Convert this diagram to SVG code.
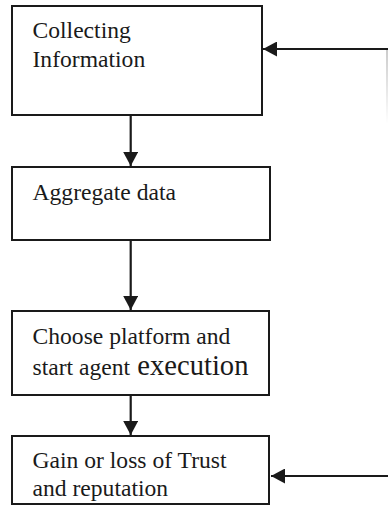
<svg xmlns="http://www.w3.org/2000/svg" width="388" height="514" viewBox="0 0 388 514">
<style>
.box{fill:#fff;stroke:#1a1a1a;stroke-width:2}
.lbl{font-family:"Liberation Serif","Times New Roman",serif;font-size:23.6px;fill:#1a1a1a}
.big{font-size:28.6px}
.conn{stroke:#1a1a1a;stroke-width:2.2;fill:none}
</style>
<defs>
<marker id="ah" viewBox="0 0 14 15" refX="14" refY="7.5" markerWidth="14" markerHeight="15" markerUnits="userSpaceOnUse" orient="auto">
<path d="M0,0 L14,7.5 L0,15 Z" fill="#1a1a1a"/>
</marker>
<linearGradient id="fade" x1="0" y1="0" x2="0" y2="1">
<stop offset="0" stop-color="#999"/>
<stop offset="1" stop-color="#fff"/>
</linearGradient>
</defs>
<rect width="388" height="514" fill="#fff"/>
<g id="n1">
<rect class="box" x="12" y="6" width="250" height="109"/>
<text class="lbl" x="32.5" y="38">Collecting</text>
<text class="lbl" x="32.5" y="67">Information</text>
</g>
<g id="n2">
<rect class="box" x="12" y="167" width="258" height="73"/>
<text class="lbl" x="32.5" y="200">Aggregate data</text>
</g>
<g id="n3">
<rect class="box" x="12" y="311" width="257" height="84"/>
<text class="lbl" x="32.5" y="344">Choose platform and</text>
<text class="lbl" x="32.5" y="374.5">start agent<tspan class="big"> execution</tspan></text>
</g>
<g id="n4">
<rect class="box" x="12" y="436" width="257" height="68"/>
<text class="lbl" x="32.5" y="468">Gain or loss of Trust</text>
<text class="lbl" x="32.5" y="496">and reputation</text>
</g>
<g id="connectors">
<line class="conn" x1="130.7" y1="116" x2="130.7" y2="166" marker-end="url(#ah)"/>
<line class="conn" x1="130.7" y1="241" x2="130.7" y2="310" marker-end="url(#ah)"/>
<line class="conn" x1="130.7" y1="396" x2="130.7" y2="435" marker-end="url(#ah)"/>
<line class="conn" x1="388" y1="49" x2="263" y2="49" marker-end="url(#ah)"/>
<line class="conn" x1="388" y1="476" x2="271" y2="476" marker-end="url(#ah)"/>
<rect x="386.5" y="50" width="1" height="74" fill="url(#fade)"/>
</g>
</svg>
